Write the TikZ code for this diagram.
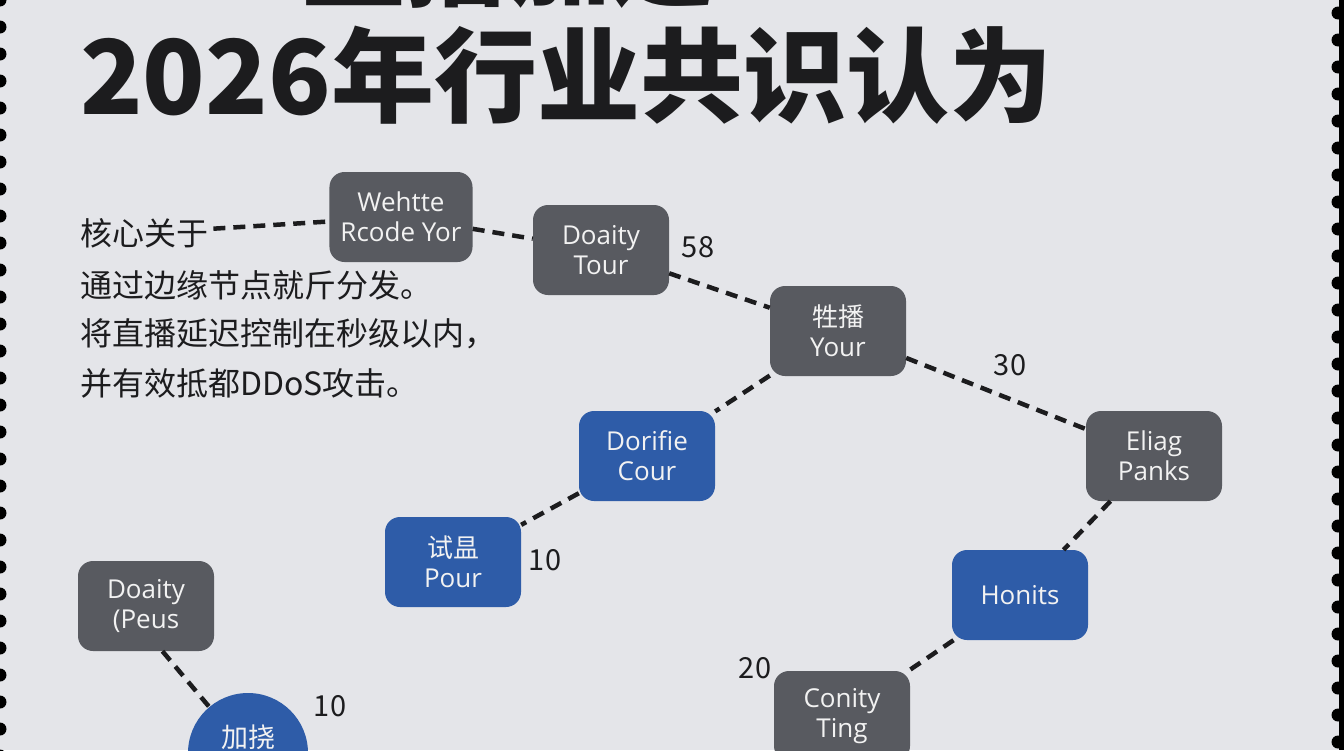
\documentclass[tikz,border=0pt]{standalone}
\usepackage{fontspec}
\setmainfont{Noto Sans CJK SC}
\newfontfamily\boxfont{Open Sans}
\newfontfamily\cjk{Noto Sans CJK SC}
\usetikzlibrary{positioning}
\definecolor{paper}{RGB}{228,229,233}
\definecolor{nodegray}{RGB}{88,90,96}
\definecolor{nodeblue}{RGB}{46,92,168}
\definecolor{inkdark}{RGB}{28,28,30}

\tikzset{
  box/.style={rectangle, rounded corners=15pt, minimum width=136pt,
    minimum height=90pt, inner xsep=11pt, align=center,
    text=white!90!gray, font=\boxfont\fontsize{26}{30}\selectfont},
  graybox/.style={box, fill=nodegray},
  bluebox/.style={box, fill=nodeblue},
  link/.style={draw=inkdark, line width=4.5pt, dash pattern=on 12pt off 8pt},
  weight/.style={font=\fontsize{29}{30}\selectfont, text=inkdark},
  bodytext/.style={anchor=west, inner sep=0pt,
    font=\fontsize{32}{36}\selectfont, text=inkdark}
}

\begin{document}
\begin{tikzpicture}[x=1pt,y=-1pt]

  % paper and torn edges
  \useasboundingbox (0,0) rectangle (1344,750);
  \fill[paper] (0,0) rectangle (1344,750);
  \fill[black] (1339,0) rectangle (1344,750);
  \foreach \yy in {0,27,...,756} {
    \fill[black] (0,\yy) circle (6.5);
    \fill[black] (1338,\yy+13) circle (6.5);
  }

  % title
  \node[anchor=base west, inner sep=0pt, font=\fontsize{103}{103}\selectfont\bfseries,
        text=inkdark] (head) at (80,-2) {CDN直播加速};
  \node[anchor=base west, inner sep=0pt, font=\fontsize{103}{103}\selectfont\bfseries,
        text=inkdark] (title) at (80,114) {2026年行业共识认为};

  % text on the left
  \node[bodytext] (core) at (80,233) {核心关于};
  \node[bodytext] (line2) at (80,285) {通过边缘节点就斤分发。};
  \node[bodytext] (line3) at (80,334) {将直播延迟控制在秒级以内，};
  \node[bodytext] (line4) at (80,383) {并有效抵都DDoS攻击。};

  % nodes
  \node[graybox] at (401,217) (wehtte) {Wehtte\\Rcode Yor};
  \node[graybox] at (601,250) (doaity) {Doaity\\Tour};
  \node[graybox] at (838,331) (zhubo) {{\cjk 牲播}\\Your};
  \node[graybox] at (1154,456) (eliag) {Eliag\\Panks};
  \node[bluebox] at (647,456) (dorifie) {Dorifie\\Cour};
  \node[bluebox] at (453,562) (pour) {{\cjk 试昷}\\Pour};
  \node[bluebox] at (1020,595) (honits) {Honits};
  \node[graybox] at (842,716) (conity) {Conity\\Ting};
  \node[graybox] at (146,606) (peus) {Doaity\\(Peus};
  \node[circle, fill=nodeblue, minimum size=120pt] at (248,753) (jiarao) {};
  \node[font=\fontsize{27}{30}\selectfont, text=white!90!gray] at (248,737) (jiaraotext) {加挠};

  % weights
  \node[weight] at (698,247) (w58) {58};
  \node[weight] at (1010,365) (w30) {30};
  \node[weight] at (545,560) (w10a) {10};
  \node[weight] at (330,706) (w10b) {10};
  \node[weight] at (755,668) (w20) {20};

  % links
  \draw[link, shorten <=5pt] (core) -- (wehtte);
  \draw[link] (wehtte) -- (doaity);
  \draw[link] (doaity) -- (zhubo);
  \draw[link] (zhubo) -- (eliag);
  \draw[link] (zhubo) -- (dorifie);
  \draw[link] (dorifie) -- (pour);
  \draw[link] (eliag) -- (honits);
  \draw[link] (honits) -- (conity);
  \draw[link] (peus.290) -- (jiarao);

\end{tikzpicture}
\end{document}
